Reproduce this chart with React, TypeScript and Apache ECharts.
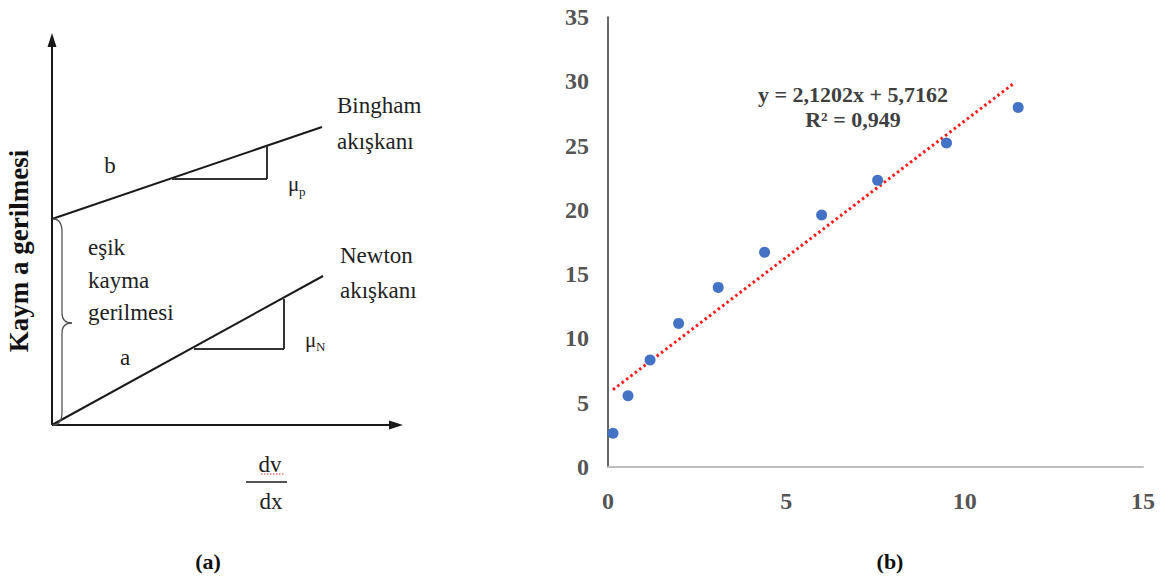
import React, { useEffect, useRef } from "react";
import * as echarts from "echarts";

// Panel (b) data
const xValues = [0.14, 0.56, 1.18, 1.98, 3.09, 4.39, 5.99, 7.56, 9.49, 11.5];
const yValues = [2.62, 5.54, 8.32, 11.17, 13.97, 16.7, 19.6, 22.3, 25.2, 27.97];
const trendSlope = 2.1202;
const trendIntercept = 5.7162;
const equationText = "y = 2,1202x + 5,7162";
const r2Text = "R² = 0,949";
const xAxisRange = [0, 15];
const yAxisRange = [0, 35];
const tickStep = 5;

// Panel (a) texts
const panelALabels = {
  yTitle: "Kaym a gerilmesi",
  bingham: ["Bingham", "akışkanı"],
  newton: ["Newton", "akışkanı"],
  threshold: ["eşik", "kayma", "gerilmesi"],
  b: "b",
  a: "a",
};
const captions = ["(a)", "(b)"];

const SERIF = "'Liberation Serif', 'Times New Roman', serif";

export default function App() {
  const ref = useRef<HTMLDivElement>(null);

  useEffect(() => {
    if (!ref.current) return;
    const chart = echarts.init(ref.current, null, { renderer: "svg" });

    const scatterData = xValues.map((x, i) => [x, yValues[i]]);
    const xMin = Math.min(...xValues);
    const xMax = Math.max(...xValues);
    const trendData = [
      [xMin, trendSlope * xMin + trendIntercept],
      [xMax - 0.1, trendSlope * (xMax - 0.1) + trendIntercept],
    ];

    const black = "#1a1a1a";
    const lineW = 2;
    const txt = (text: string, x: number, y: number, opts: any = {}) => ({
      type: "text",
      x,
      y,
      silent: true,
      style: {
        text,
        fill: opts.fill || "#222",
        fontFamily: SERIF,
        fontSize: opts.fontSize || 23,
        fontWeight: opts.fontWeight || "normal",
        textAlign: opts.align || "left",
        textVerticalAlign: "middle",
      },
      rotation: opts.rotation || 0,
    });
    const ln = (x1: number, y1: number, x2: number, y2: number, w = lineW, c = black) => ({
      type: "line",
      silent: true,
      shape: { x1, y1, x2, y2 },
      style: { stroke: c, lineWidth: w },
    });
    const qc = (x1: number, y1: number, cx: number, cy: number, x2: number, y2: number) => ({
      type: "bezierCurve",
      silent: true,
      shape: { x1, y1, cpx1: cx, cpy1: cy, x2, y2 },
      style: { stroke: "#555", lineWidth: 1.3, fill: null },
    });

    const graphics: any[] = [
      // axes of panel (a)
      ln(52, 425, 52, 44),
      ln(52, 425, 392, 425),
      { type: "polygon", silent: true, shape: { points: [[52, 33], [47.5, 47], [56.5, 47]] }, style: { fill: black } },
      { type: "polygon", silent: true, shape: { points: [[403, 425], [389, 420.5], [389, 429.5]] }, style: { fill: black } },
      // Bingham line + triangle
      ln(52, 219, 322, 127),
      ln(172, 179, 267, 179, 2, "#333"),
      ln(267, 179, 267, 146, 2, "#333"),
      // Newton line + triangle
      ln(52, 425, 323, 276),
      ln(194, 349, 284, 349, 2, "#333"),
      ln(284, 349, 284, 299, 2, "#333"),
      // brace
      qc(53, 219, 62, 219, 62, 232),
      ln(62, 232, 62, 313, 1.3, "#555"),
      qc(62, 313, 62, 323, 72, 323),
      qc(72, 323, 62, 323, 62, 333),
      ln(62, 333, 62, 412, 1.3, "#555"),
      qc(62, 412, 62, 425, 53, 425),
      // texts
      txt(panelALabels.yTitle, 19, 251, { fontSize: 27, fontWeight: "bold", align: "center", rotation: Math.PI / 2, fill: "#111" }),
      txt(panelALabels.bingham[0], 337, 105),
      txt(panelALabels.bingham[1], 337, 141),
      txt(panelALabels.newton[0], 340, 255),
      txt(panelALabels.newton[1], 340, 290),
      txt(panelALabels.threshold[0], 88, 247),
      txt(panelALabels.threshold[1], 88, 280),
      txt(panelALabels.threshold[2], 88, 312),
      txt(panelALabels.b, 110, 165, { align: "center" }),
      txt(panelALabels.a, 125, 357, { align: "center" }),
      txt("μ", 288, 184, { fontSize: 21 }),
      txt("p", 299, 191, { fontSize: 13 }),
      txt("μ", 305, 340, { fontSize: 21 }),
      txt("N", 316, 346, { fontSize: 13 }),
      txt("dv", 270, 464, { align: "center" }),
      ln(246, 482, 287, 482, 1.5, black),
      {
        type: "line",
        silent: true,
        shape: { x1: 261, y1: 474, x2: 284, y2: 474 },
        style: { stroke: "#e03030", lineWidth: 1, lineDash: [1.5, 1.5] },
      },
      txt("dx", 271, 501, { align: "center" }),
      // captions
      txt(captions[0], 208, 561, { align: "center", fontWeight: "bold", fontSize: 22, fill: "#111" }),
      txt(captions[1], 890, 561, { align: "center", fontWeight: "bold", fontSize: 22, fill: "#111" }),
      // equation
      txt(equationText, 853, 94, { align: "center", fontWeight: "bold", fontSize: 22, fill: "#404040" }),
      txt(r2Text, 853, 119, { align: "center", fontWeight: "bold", fontSize: 22, fill: "#404040" }),
    ];

    chart.setOption({
      animation: false,
      backgroundColor: "#ffffff",
      grid: { left: 608, right: 25, top: 17, bottom: 113, containLabel: false },
      xAxis: {
        type: "value",
        min: xAxisRange[0],
        max: xAxisRange[1],
        interval: tickStep,
        axisLine: { show: true, onZero: false, lineStyle: { color: "#bfbfbf", width: 2 } },
        axisTick: { show: false },
        splitLine: { show: false },
        axisLabel: {
          margin: 22,
          color: "#555",
          fontFamily: SERIF,
          fontSize: 24,
          fontWeight: "bold",
        },
      },
      yAxis: {
        type: "value",
        min: yAxisRange[0],
        max: yAxisRange[1],
        interval: tickStep,
        axisLine: { show: true, onZero: false, lineStyle: { color: "#333", width: 1.5 } },
        axisTick: { show: false },
        splitLine: { show: false },
        axisLabel: {
          margin: 19,
          color: "#555",
          fontFamily: SERIF,
          fontSize: 24,
          fontWeight: "bold",
        },
      },
      series: [
        {
          type: "line",
          data: trendData,
          symbol: "none",
          silent: true,
          lineStyle: { color: "#ff1a1a", width: 3, type: [2.5, 3] },
          z: 1,
        },
        {
          type: "scatter",
          data: scatterData,
          symbol: "circle",
          symbolSize: 11,
          itemStyle: { color: "#4472C4", opacity: 1 },
          z: 2,
        },
      ],
      graphic: { elements: graphics },
    });

    return () => chart.dispose();
  }, []);

  return (
    <div
      ref={ref}
      style={{ position: "fixed", left: 0, top: 0, width: 1168, height: 580, background: "#fff" }}
    />
  );
}
